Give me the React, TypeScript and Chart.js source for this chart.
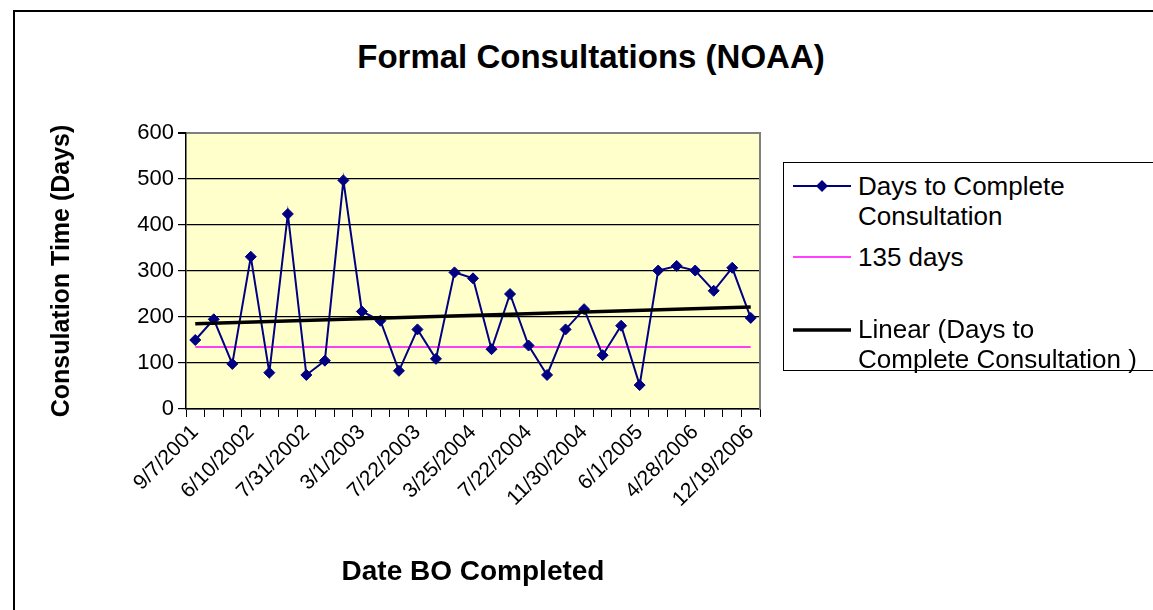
import React, { useEffect, useRef } from "react";
import { Chart, registerables } from "chart.js";

Chart.register(...registerables);

const FONT = 'Arial, "Liberation Sans", sans-serif';

// Category axis: 31 consultations; only every third date is printed on the axis.
const categories: string[] = [
  "9/7/2001", "", "",
  "6/10/2002", "", "",
  "7/31/2002", "", "",
  "3/1/2003", "", "",
  "7/22/2003", "", "",
  "3/25/2004", "", "",
  "7/22/2004", "", "",
  "11/30/2004", "", "",
  "6/1/2005", "", "",
  "4/28/2006", "", "",
  "12/19/2006",
];

// Days to Complete Consultation
const daysToComplete: number[] = [
  150, 195, 98, 331, 79, 424, 74, 105, 497, 212,
  192, 83, 173, 109, 297, 284, 130, 250, 138, 74,
  173, 217, 117, 181, 52, 301, 311, 301, 257, 307,
  198,
];

// 135-day target line
const targetDays: number[] = [
  135, 135, 135, 135, 135, 135, 135, 135, 135, 135,
  135, 135, 135, 135, 135, 135, 135, 135, 135, 135,
  135, 135, 135, 135, 135, 135, 135, 135, 135, 135,
  135,
];

const yTicks: number[] = [0, 100, 200, 300, 400, 500, 600];

const TITLE = "Formal Consultations (NOAA)";
const X_TITLE = "Date BO Completed";
const Y_TITLE = "Consulation Time (Days)";
const SERIES_NAME = "Days to Complete Consultation";
const TARGET_NAME = "135 days";
const TREND_NAME = "Linear (Days to Complete Consultation )";

// Least-squares linear trend of the series (drawn from first to last point)
function linearTrend(values: number[]): (number | null)[] {
  const n = values.length;
  let sx = 0, sy = 0, sxy = 0, sxx = 0;
  values.forEach((v, i) => {
    sx += i; sy += v; sxy += i * v; sxx += i * i;
  });
  const slope = (n * sxy - sx * sy) / (n * sxx - sx * sx);
  const intercept = (sy - slope * sx) / n;
  return values.map((_, i) => (i === 0 || i === n - 1 ? intercept + slope * i : null));
}

const plotFrame = {
  id: "plotFrame",
  beforeDraw(chart: any) {
    const { ctx, chartArea } = chart;
    const { left, top, right, bottom } = chartArea;
    ctx.save();
    ctx.fillStyle = "#FFFFCC";
    ctx.fillRect(left, top, right - left, bottom - top);
    ctx.restore();
  },
  beforeDatasetsDraw(chart: any) {
    const { ctx, chartArea } = chart;
    const { top, right, bottom } = chartArea;
    ctx.save();
    ctx.strokeStyle = "#808080";
    ctx.lineWidth = 2;
    ctx.beginPath();
    ctx.moveTo(right, top - 1);
    ctx.lineTo(right, bottom);
    ctx.stroke();
    ctx.restore();
  },
};

export default function App() {
  const canvasRef = useRef<HTMLCanvasElement | null>(null);

  useEffect(() => {
    if (!canvasRef.current) return;
    Chart.defaults.font.family = FONT;
    Chart.defaults.color = "#000";

    const chart = new Chart(canvasRef.current, {
      type: "line",
      data: {
        labels: categories,
        datasets: [
          {
            label: TREND_NAME,
            data: linearTrend(daysToComplete),
            borderColor: "#000000",
            borderWidth: 3.5,
            pointRadius: 0,
            spanGaps: true,
            order: 0,
          },
          {
            label: SERIES_NAME,
            data: daysToComplete,
            borderColor: "#000080",
            backgroundColor: "#000080",
            borderWidth: 2,
            pointStyle: "rectRot",
            pointRadius: 5.5,
            pointBorderWidth: 1,
            pointBackgroundColor: "#000080",
            pointBorderColor: "#000080",
            order: 1,
          },
          {
            label: TARGET_NAME,
            data: targetDays,
            borderColor: "#FF00FF",
            borderWidth: 1.5,
            pointRadius: 0,
            order: 2,
          },
        ],
      },
      options: {
        animation: false,
        responsive: true,
        maintainAspectRatio: false,
        layout: { padding: { left: 14, right: 393, top: 133, bottom: 0 } },
        plugins: {
          legend: { display: false },
          title: { display: false },
          tooltip: { enabled: false },
        },
        scales: {
          x: {
            type: "category",
            offset: true,
            afterFit(scale: any) {
              scale.height = 201;
            },
            grid: {
              offset: true,
              drawOnChartArea: false,
              drawTicks: true,
              tickLength: 8,
              tickColor: "#000",
              color: "#000",
            },
            border: { color: "#000", width: 1.5 },
            ticks: {
              autoSkip: false,
              maxRotation: 45,
              minRotation: 45,
              padding: 3,
              color: "#000",
              font: { size: 21, family: FONT },
            },
            title: {
              display: true,
              text: X_TITLE,
              color: "#000",
              font: { size: 28, weight: "bold", family: FONT },
              padding: { top: 0, bottom: 21 },
            },
          },
          y: {
            min: yTicks[0],
            max: yTicks[yTicks.length - 1],
            afterFit(scale: any) {
              scale.width = 172;
            },
            afterBuildTicks(scale: any) {
              scale.ticks = yTicks.map((v) => ({ value: v }));
            },
            grid: {
              color: (c: any) => (c.tick && c.tick.value === 600 ? "#808080" : "#000"),
              lineWidth: (c: any) => (c.tick && c.tick.value === 600 ? 2 : 1.2),
              tickColor: "#000",
              tickLength: 8,
              drawTicks: true,
            },
            border: { color: "#000", width: 1.5 },
            ticks: {
              padding: 4,
              color: "#000",
              font: { size: 22, family: FONT },
            },
            title: {
              display: true,
              text: Y_TITLE,
              color: "#000",
              font: { size: 25, weight: "bold", family: FONT },
              padding: { top: 33, bottom: 0 },
            },
          },
        },
      },
      plugins: [plotFrame],
    });
    return () => chart.destroy();
  }, []);

  const legendText: React.CSSProperties = {
    position: "absolute",
    left: 74,
    fontFamily: FONT,
    fontSize: 26,
    lineHeight: "30px",
    color: "#000",
    whiteSpace: "nowrap",
  };

  return (
    <div style={{ position: "absolute", left: 0, top: 0, width: 1153, height: 610, overflow: "hidden", background: "#fff" }}>
      <div
        style={{
          position: "absolute",
          left: 13,
          top: 10,
          width: 1200,
          height: 700,
          borderTop: "2px solid #000",
          borderLeft: "2px solid #000",
        }}
      />
      <div
        style={{
          position: "absolute",
          left: 0,
          top: 37,
          width: 1182,
          textAlign: "center",
          fontFamily: FONT,
          fontWeight: "bold",
          fontSize: 33,
          lineHeight: "40px",
          color: "#000",
        }}
      >
        {TITLE}
      </div>
      <div style={{ position: "absolute", left: 0, top: 0, width: 1153, height: 610 }}>
        <canvas ref={canvasRef} />
      </div>
      <div
        style={{
          position: "absolute",
          left: 783,
          top: 162,
          width: 390,
          height: 209,
          border: "1.5px solid #000",
          boxSizing: "border-box",
          background: "#fff",
        }}
      >
        <svg width={70} height={208} style={{ position: "absolute", left: 0, top: 0 }}>
          <line x1={9} y1={23} x2={67} y2={23} stroke="#000080" strokeWidth={2} />
          <polygon points="32,23 38,17 44,23 38,29" fill="#000080" />
          <line x1={9} y1={94} x2={67} y2={94} stroke="#FF00FF" strokeWidth={1.5} />
          <line x1={9} y1={167} x2={67} y2={167} stroke="#000" strokeWidth={3.5} />
        </svg>
        <div style={{ ...legendText, top: 8 }}>
          Days to Complete
          <br />
          Consultation
        </div>
        <div style={{ ...legendText, top: 79 }}>{TARGET_NAME}</div>
        <div style={{ ...legendText, top: 151 }}>
          Linear (Days to
          <br />
          Complete Consultation )
        </div>
      </div>
    </div>
  );
}
